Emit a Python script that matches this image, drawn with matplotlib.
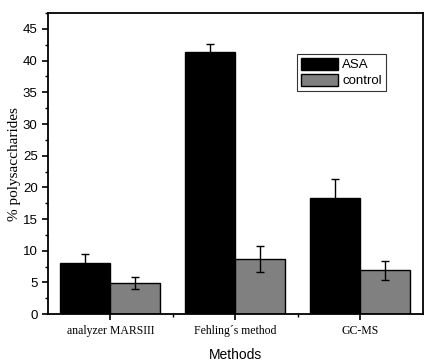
import numpy as np
import matplotlib
matplotlib.use("Agg")
import matplotlib.pyplot as plt
from matplotlib.ticker import MultipleLocator, FixedLocator

methods = ["analyzer MARSIII", "Fehling\u00b4s method", "GC-MS"]
asa = [8.1, 41.3, 18.4]
asa_err = [1.4, 1.3, 3.0]
control = [4.9, 8.7, 6.95]
control_err = [1.0, 2.05, 1.5]

fig = plt.figure(figsize=(4.3, 3.64), dpi=100)
ax = fig.add_axes([0.1116, 0.137, 0.872, 0.827])

x = np.arange(len(methods))
w = 0.4
err_kw = dict(ecolor="black", elinewidth=1.0, capsize=3, capthick=1.0)
ax.bar(x - w / 2, asa, w, yerr=asa_err, color="black", edgecolor="black",
       linewidth=1.0, label="ASA", error_kw=err_kw)
ax.bar(x + w / 2, control, w, yerr=control_err, color="#808080", edgecolor="black",
       linewidth=1.0, label="control", error_kw=err_kw)

ax.set_xlim(-0.5, 2.5)
ax.set_ylim(0, 47.5)
ax.yaxis.set_major_locator(MultipleLocator(5))
ax.yaxis.set_minor_locator(MultipleLocator(2.5))
ax.set_xticks(x)
ax.set_xticklabels(methods, family="Liberation Serif", fontsize=8.5)
ax.xaxis.set_minor_locator(FixedLocator([0.5, 1.5]))
ax.tick_params(axis="both", which="major", direction="out", length=4, width=1.2)
ax.tick_params(axis="both", which="minor", direction="out", length=2.5, width=1.0)
ax.tick_params(axis="y", labelsize=9.5)
for lab in ax.get_yticklabels():
    lab.set_family("Liberation Sans")
for s in ax.spines.values():
    s.set_linewidth(1.3)

ax.set_ylabel("% polysaccharides", family="Liberation Serif", fontsize=11, labelpad=1)
ax.set_xlabel("Methods", family="Liberation Sans", fontsize=10, labelpad=8)

leg = ax.legend(loc="upper left", bbox_to_anchor=(0.665, 0.865), fontsize=9.5,
                frameon=True, fancybox=False, edgecolor="black", borderpad=0.3,
                handlelength=2.8, handleheight=1.0, handletextpad=0.3,
                labelspacing=0.2, borderaxespad=0)
leg.get_frame().set_linewidth(0.8)
for t in leg.get_texts():
    t.set_family("Liberation Sans")

fig.savefig("out.png", dpi=100)
